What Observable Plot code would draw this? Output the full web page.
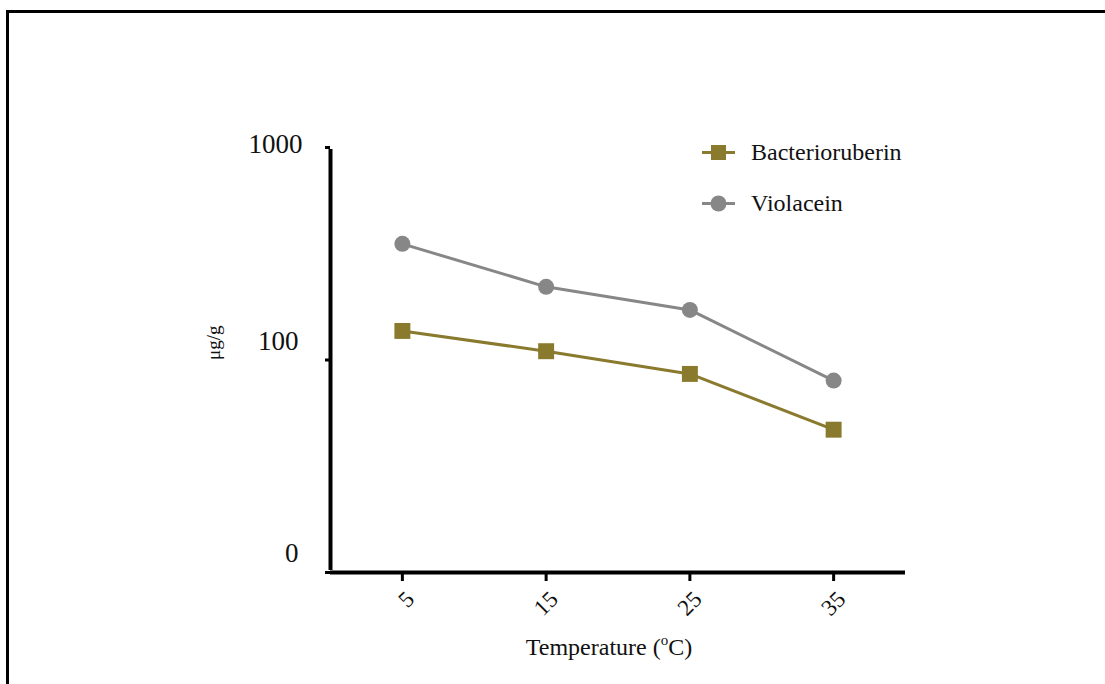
<!DOCTYPE html>
<html>
<head>
<meta charset="utf-8">
<script src="https://cdn.jsdelivr.net/npm/d3@7"></script>
<script src="https://cdn.jsdelivr.net/npm/@observablehq/plot@0.6"></script>
<style>
  html, body { margin: 0; padding: 0; background: #fff; }
  body { width: 1105px; height: 684px; position: relative; overflow: hidden; font-family: "Liberation Serif", serif; }
  #frame { position: absolute; left: 6px; top: 10px; width: 1110px; height: 700px; border-left: 3px solid #000; border-top: 3px solid #000; box-sizing: border-box; }
  #chart { position: absolute; left: 0; top: 0; }
  #xlabel { position: absolute; left: 0; width: 1218px; top: 634px; text-align: center; font-family: "Liberation Serif", serif; font-size: 24px; color: #111; }
  #xlabel sup { font-size: 15px; vertical-align: 10px; line-height: 0; }
  #legend { position: absolute; left: 700px; top: 137px; font-family: "Liberation Serif", serif; font-size: 24px; color: #111; }
  .item { display: flex; align-items: center; height: 30px; margin-bottom: 21px; }
  .item svg { margin-right: 14px; }
</style>
</head>
<body>
<div id="frame"></div>
<div id="chart"></div>
<div id="xlabel"></div>
<div id="legend"></div>
<script>
const temperatures = [5, 15, 25, 35];
const seriesNames = ["Bacterioruberin", "Violacein"];
const bacterioruberin = [137, 110, 86, 47];
const violacein = [352, 221, 172, 80];
const xTickValues = [5, 15, 25, 35];
const yTickValues = [10, 100, 1000];
const yTickLabels = ["0", "100", "1000"];
const colors = { Bacterioruberin: "#8a7a2e", Violacein: "#878787" };
const yLabel = "μg/g";
const xLabelMain = "Temperature (";
const xLabelSup = "o";
const xLabelEnd = "C)";

const rows = [];
temperatures.forEach((t, i) => {
  rows.push({ series: "Bacterioruberin", t, v: bacterioruberin[i] });
  rows.push({ series: "Violacein", t, v: violacein[i] });
});
const yTicks = yTickValues.map((v, i) => ({ v, label: yTickLabels[i] }));

const font = "Liberation Serif";
const plot = Plot.plot({
  width: 1105,
  height: 684,
  marginLeft: 330,
  marginRight: 200,
  marginTop: 147,
  marginBottom: 112,
  style: { fontFamily: font, background: "transparent", overflow: "visible" },
  x: { domain: [0, 40], axis: null },
  y: { type: "log", domain: [10, 1000], axis: null },
  marks: [
    Plot.axisX(xTickValues, { tickSize: 9, strokeWidth: 3, stroke: "#000", tickFormat: () => "", label: null, anchor: "bottom" }),
    Plot.axisY(yTickValues, { tickSize: 5, strokeWidth: 3, stroke: "#000", tickFormat: () => "", label: null, anchor: "left" }),
    Plot.ruleX([0], { y1: 10, y2: 1000, strokeWidth: 4, stroke: "#000", insetTop: -2, insetBottom: -2 }),
    Plot.ruleY([10], { x1: 0, x2: 40, strokeWidth: 4, stroke: "#000" }),
    Plot.text(yTicks.filter(d => d.v === 1000), { x: 0, y: "v", text: "label", textAnchor: "end", dx: -28, dy: -3, fontSize: 27, fontFamily: font, fill: "#111" }),
    Plot.text(yTicks.filter(d => d.v !== 1000), { x: 0, y: "v", text: "label", textAnchor: "end", dx: -32, dy: -19, fontSize: 27, fontFamily: font, fill: "#111" }),
    Plot.text(xTickValues, { x: d => d, y: 10, text: d => String(d), rotate: -45, textAnchor: "end", dx: 8, dy: 23, fontSize: 23, fontFamily: font, fill: "#111" }),
    Plot.text([yLabel], { frameAnchor: "left", dx: -117, rotate: -90, fontSize: 19, fontFamily: font, fill: "#111", text: d => d }),
    Plot.line(rows, { x: "t", y: "v", z: "series", stroke: d => colors[d.series], strokeWidth: 3 }),
    Plot.dot(rows.filter(d => d.series === "Violacein"), { x: "t", y: "v", r: 8, fill: colors.Violacein, stroke: "none" }),
    Plot.dot(rows.filter(d => d.series === "Bacterioruberin"), { x: "t", y: "v", symbol: "square", r: 9, fill: colors.Bacterioruberin, stroke: "none" })
  ]
});
document.getElementById("chart").appendChild(plot);

document.getElementById("xlabel").innerHTML = xLabelMain + "<sup>" + xLabelSup + "</sup>" + xLabelEnd;

const legend = document.getElementById("legend");
seriesNames.forEach(name => {
  const c = colors[name];
  const sym = name === "Bacterioruberin"
    ? `<rect x="11" y="7" width="15" height="15" fill="${c}"/>`
    : `<circle cx="18.5" cy="14.5" r="8" fill="${c}"/>`;
  legend.insertAdjacentHTML("beforeend",
    `<div class="item"><svg width="37" height="29"><line x1="2" x2="35" y1="14.5" y2="14.5" stroke="${c}" stroke-width="3"/>${sym}</svg><span>${name}</span></div>`);
});
</script>
</body>
</html>
